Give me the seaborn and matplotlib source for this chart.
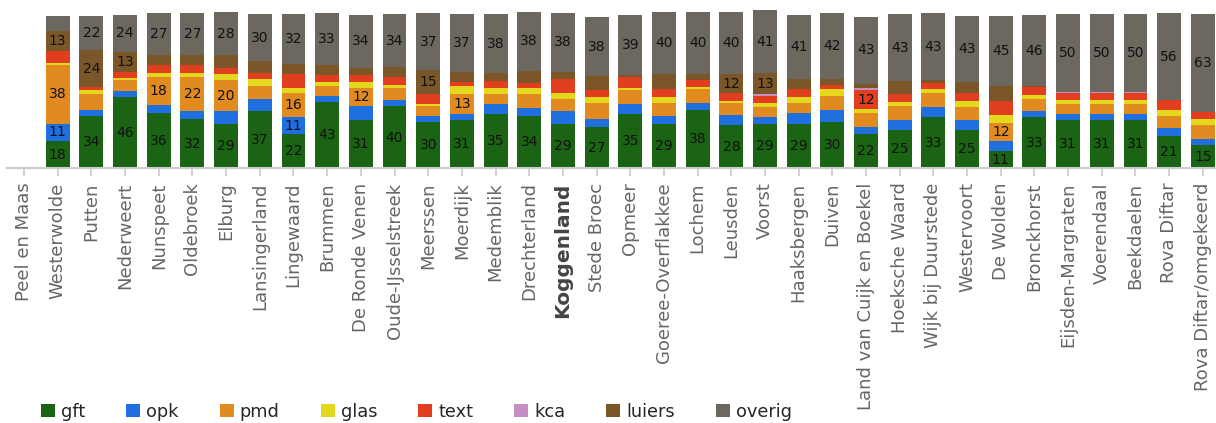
import numpy as np
import pandas as pd
import matplotlib
matplotlib.use("Agg")
import matplotlib.pyplot as plt
from matplotlib.patches import Patch
import seaborn as sns

sns.set_style("white")
plt.rcParams['font.family'] = ['DejaVu Sans']

gemeenten = ["Peel en Maas", "Westerwolde", "Putten", "Nederweert", "Nunspeet", "Oldebroek",
             "Elburg", "Lansingerland", "Lingewaard", "Brummen", "De Ronde Venen",
             "Oude-IJsselstreek", "Meerssen", "Moerdijk", "Medemblik", "Drechterland",
             "Koggenland", "Stede Broec", "Opmeer", "Goeree-Overflakkee", "Lochem", "Leusden",
             "Voorst", "Haaksbergen", "Duiven", "Land van Cuijk en Boekel", "Hoeksche Waard",
             "Wijk bij Duurstede", "Westervoort", "De Wolden", "Bronckhorst",
             "Eijsden-Margraten", "Voerendaal", "Beekdaelen", "Rova Diftar",
             "Rova Diftar/omgekeerd"]

gft = [0, 18, 34, 46, 36, 32, 29, 37, 22, 43, 31, 40,
       30, 31, 35, 34, 29, 27, 35, 29, 38, 28, 29, 29,
       30, 22, 25, 33, 25, 11, 33, 31, 31, 31, 21, 15]
opk = [0, 11, 4, 4, 5, 5, 8, 8, 11, 4, 9, 4,
       4, 4, 6.5, 5, 8, 5, 6.5, 5, 4, 6.5, 4, 6.5,
       8, 5, 6.5, 6.5, 6.5, 6.5, 4, 4, 4, 4, 5, 4]
pmd = [0, 38, 10, 7, 18, 22, 20, 8.5, 16, 6.5, 12, 8,
       6.5, 13, 6.5, 9, 8, 10, 9, 8, 9, 8, 6.5, 6.5,
       9, 9, 9, 9, 8, 12, 8, 6.5, 6.5, 6.5, 8, 9]
glas = [0, 1, 2.5, 1.3, 2.5, 2.5, 4, 4, 3, 2, 4, 2,
        1.3, 5, 4, 4, 4, 4, 1.3, 4, 1.3, 1.3, 2.5, 4,
        4, 2.5, 2.5, 2.5, 4, 5, 2.5, 2.5, 2.5, 2.5, 4, 4]
text = [0, 7.7, 2, 4, 5, 5, 4, 4, 9, 5, 4, 5,
        6.5, 3, 4.5, 3, 8.5, 4.5, 7, 5, 4.5, 5, 5, 5,
        3, 12, 5, 4, 5, 9, 5, 5, 5, 5, 6, 4.5]
kca = [0, 0, 0, 0, 0, 0, 0, 0, 0, 0, 0, 0,
       0, 0, 0, 0, 0, 0, 0, 0, 0, 0, 1.3, 0,
       0, 1.3, 0, 0, 0, 0, 0, 0.6, 0.6, 0.6, 0, 0]
luiers = [0, 13, 24, 13, 6.5, 6.5, 8, 8, 6.5, 6.5, 5, 6.5,
          15, 6.5, 5, 8, 5, 9, 1.3, 10, 4, 12, 13, 7,
          4, 3, 8.5, 2, 7, 10, 0.5, 0, 0, 0, 0, 0]
overig = [0, 10, 22, 24, 27, 27, 28, 30, 32, 33, 34, 34,
          37, 37, 38, 38, 38, 38, 39, 40, 40, 40, 41, 41,
          42, 43, 43, 43, 43, 45, 46, 50, 50, 50, 56, 63]

fracties = ["gft", "opk", "pmd", "glas", "text", "kca", "luiers", "overig"]
kleuren = ["#1b6413", "#1f6fdf", "#e08a1f", "#e3d81d", "#e03e1e", "#c490c4", "#7b5629", "#6c6860"]

df = pd.DataFrame({"gemeente": gemeenten, "gft": gft, "opk": opk, "pmd": pmd, "glas": glas,
                   "text": text, "kca": kca, "luiers": luiers, "overig": overig})
cum = df[fracties].cumsum(axis=1)

W, H = 1216, 423
fig = plt.figure(figsize=(W / 100, H / 100), dpi=100)
left_px, base_px = 7.2, 168.5
step = 33.68
ax = fig.add_axes([left_px / W, (H - base_px) / H, (W - left_px) / W, base_px / H])

# draw cumulative tops from the top layer down so each layer covers the one above
for naam, kleur in reversed(list(zip(fracties, kleuren))):
    sns.barplot(x=df["gemeente"], y=cum[naam], order=gemeenten, color=kleur,
                saturation=1, width=0.71, errorbar=None, ax=ax, linewidth=0)

# value labels
for j in range(len(gemeenten)):
    onder = 0
    for naam in fracties:
        v = df[naam][j]
        if round(v) >= 11:
            ax.text(j, onder + v / 2, f"{int(round(v))}", ha="center", va="center",
                    fontsize=10, color="#111111")
        onder += v

ax.set_xlim(-0.5, -0.5 + (W - left_px) / step)
ax.set_ylim(0, base_px / 1.55)
ax.set_xlabel("")
ax.set_ylabel("")
ax.set_yticks([])
for s in ["top", "right", "left"]:
    ax.spines[s].set_visible(False)
ax.spines["bottom"].set_color("#cccccc")
ax.spines["bottom"].set_linewidth(1.5)
ax.tick_params(axis="x", length=6, width=1.2, color="#cccccc", labelsize=13,
               labelcolor="#666666", pad=4, bottom=True)
ax.set_xticks(range(len(gemeenten)))
ax.set_xticklabels(gemeenten, rotation=90)
for lbl in ax.get_xticklabels():
    if lbl.get_text() == "Koggenland":
        lbl.set_fontweight("bold")
        lbl.set_fontsize(14.5)
        lbl.set_color("#444444")

handles = [Patch(facecolor=k, edgecolor="none", label=n) for n, k in zip(fracties, kleuren)]
fig.legend(handles=handles, loc="center left", bbox_to_anchor=(41 / W, 11.5 / H),
           ncol=8, frameon=False, fontsize=12.8, borderpad=0, borderaxespad=0,
           handlelength=0.79, handleheight=0.79, handletextpad=0.34, columnspacing=2.3)

fig.savefig("out.png", dpi=100)
